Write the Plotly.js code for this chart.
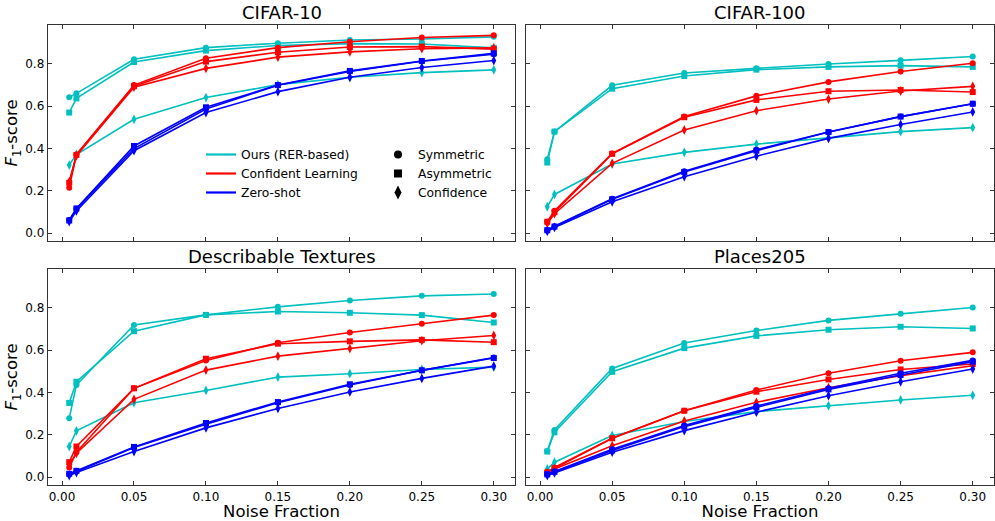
<!DOCTYPE html>
<html>
<head>
<meta charset="utf-8">
<script src="https://cdn.plot.ly/plotly-3.0.1.min.js"></script>
<style>html,body{margin:0;padding:0;background:#fff;}#chart{width:995px;height:521px;}</style>
</head>
<body>
<div id="chart"></div>
<script>
// ---------- data ----------
const noise = [0.005, 0.01, 0.05, 0.10, 0.15, 0.20, 0.25, 0.30];
const xTicks = [0.00, 0.05, 0.10, 0.15, 0.20, 0.25, 0.30];
const yTicks = [0.0, 0.2, 0.4, 0.6, 0.8];
const datasets = ["CIFAR-10", "CIFAR-100", "Describable Textures", "Places205"];
const methods = ["Ours (RER-based)", "Confident Learning", "Zero-shot"];
const noiseTypes = ["Symmetric", "Asymmetric", "Confidence"];

// CIFAR-10
const c10_ours_sym  = [0.642, 0.661, 0.822, 0.877, 0.898, 0.913, 0.918, 0.928];
const c10_ours_asym = [0.570, 0.637, 0.809, 0.863, 0.887, 0.896, 0.894, 0.876];
const c10_ours_conf = [0.322, 0.372, 0.538, 0.641, 0.702, 0.737, 0.759, 0.772];
const c10_cl_sym    = [0.215, 0.372, 0.700, 0.827, 0.877, 0.905, 0.925, 0.935];
const c10_cl_asym   = [0.238, 0.370, 0.695, 0.811, 0.855, 0.880, 0.882, 0.870];
const c10_cl_conf   = [0.243, 0.366, 0.690, 0.779, 0.832, 0.857, 0.872, 0.876];
const c10_zs_sym    = [0.062, 0.115, 0.400, 0.587, 0.699, 0.764, 0.813, 0.846];
const c10_zs_asym   = [0.060, 0.117, 0.412, 0.595, 0.700, 0.767, 0.814, 0.850];
const c10_zs_conf   = [0.055, 0.105, 0.390, 0.570, 0.669, 0.737, 0.783, 0.816];

// CIFAR-100
const c100_ours_sym  = [0.349, 0.480, 0.699, 0.757, 0.779, 0.800, 0.817, 0.835];
const c100_ours_asym = [0.334, 0.480, 0.683, 0.743, 0.773, 0.786, 0.792, 0.786];
const c100_ours_conf = [0.125, 0.183, 0.327, 0.382, 0.421, 0.451, 0.480, 0.499];
const c100_cl_sym    = [0.054, 0.106, 0.377, 0.551, 0.649, 0.715, 0.764, 0.803];
const c100_cl_asym   = [0.054, 0.099, 0.375, 0.548, 0.630, 0.671, 0.677, 0.667];
const c100_cl_conf   = [0.046, 0.092, 0.330, 0.488, 0.579, 0.634, 0.672, 0.694];
const c100_zs_sym    = [0.014, 0.033, 0.163, 0.293, 0.394, 0.478, 0.551, 0.612];
const c100_zs_asym   = [0.014, 0.031, 0.160, 0.289, 0.390, 0.478, 0.551, 0.612];
const c100_zs_conf   = [0.009, 0.027, 0.148, 0.267, 0.364, 0.448, 0.514, 0.573];

// Describable Textures
const dtd_ours_sym  = [0.278, 0.436, 0.719, 0.767, 0.805, 0.835, 0.857, 0.866];
const dtd_ours_asym = [0.351, 0.451, 0.690, 0.767, 0.783, 0.777, 0.766, 0.731];
const dtd_ours_conf = [0.145, 0.219, 0.352, 0.410, 0.473, 0.489, 0.509, 0.520];
const dtd_cl_sym    = [0.046, 0.118, 0.420, 0.552, 0.635, 0.684, 0.725, 0.766];
const dtd_cl_asym   = [0.071, 0.145, 0.420, 0.560, 0.631, 0.642, 0.649, 0.638];
const dtd_cl_conf   = [0.058, 0.113, 0.368, 0.506, 0.572, 0.608, 0.645, 0.670];
const dtd_zs_sym    = [0.014, 0.027, 0.140, 0.250, 0.352, 0.436, 0.505, 0.566];
const dtd_zs_asym   = [0.016, 0.030, 0.143, 0.256, 0.355, 0.439, 0.505, 0.563];
const dtd_zs_conf   = [0.008, 0.022, 0.121, 0.233, 0.325, 0.403, 0.467, 0.525];

// Places205
const p205_ours_sym  = [0.124, 0.223, 0.514, 0.634, 0.693, 0.741, 0.772, 0.802];
const p205_ours_asym = [0.121, 0.212, 0.498, 0.610, 0.668, 0.697, 0.711, 0.703];
const p205_ours_conf = [0.039, 0.071, 0.197, 0.263, 0.310, 0.338, 0.365, 0.387];
const p205_cl_sym    = [0.024, 0.046, 0.184, 0.314, 0.412, 0.491, 0.550, 0.590];
const p205_cl_asym   = [0.022, 0.042, 0.184, 0.314, 0.404, 0.462, 0.509, 0.535];
const p205_cl_conf   = [0.019, 0.039, 0.149, 0.266, 0.354, 0.423, 0.480, 0.527];
const p205_zs_sym    = [0.014, 0.027, 0.132, 0.244, 0.336, 0.420, 0.491, 0.552];
const p205_zs_asym   = [0.013, 0.025, 0.126, 0.239, 0.330, 0.415, 0.483, 0.546];
const p205_zs_conf   = [0.008, 0.020, 0.118, 0.220, 0.307, 0.385, 0.451, 0.511];

// ---------- styling ----------
const colors = ["#00BFBF", "#FF0000", "#0000FF"];
const symbols = ["circle", "square", "diamond-tall"];
const msizes = [6, 6, 7];
const FONT = "DejaVu Sans, Liberation Sans, sans-serif";

const series = [
  [[c10_ours_sym, c10_ours_asym, c10_ours_conf], [c10_cl_sym, c10_cl_asym, c10_cl_conf], [c10_zs_sym, c10_zs_asym, c10_zs_conf]],
  [[c100_ours_sym, c100_ours_asym, c100_ours_conf], [c100_cl_sym, c100_cl_asym, c100_cl_conf], [c100_zs_sym, c100_zs_asym, c100_zs_conf]],
  [[dtd_ours_sym, dtd_ours_asym, dtd_ours_conf], [dtd_cl_sym, dtd_cl_asym, dtd_cl_conf], [dtd_zs_sym, dtd_zs_asym, dtd_zs_conf]],
  [[p205_ours_sym, p205_ours_asym, p205_ours_conf], [p205_cl_sym, p205_cl_asym, p205_cl_conf], [p205_zs_sym, p205_zs_asym, p205_zs_conf]]
];

const traces = [];
series.forEach((ds, di) => {
  const sfx = di === 0 ? "" : String(di + 1);
  ds.forEach((m, mi) => {
    m.forEach((vals, ni) => {
      traces.push({
        type: "scatter", mode: "lines+markers",
        x: noise, y: vals,
        xaxis: "x" + sfx, yaxis: "y" + sfx,
        line: {color: colors[mi], width: 1.6},
        marker: {color: colors[mi], symbol: symbols[ni], size: msizes[ni]},
        showlegend: false, hoverinfo: "skip"
      });
    });
  });
});
// legend entries: methods (lines) and noise types (markers)
methods.forEach((name, mi) => {
  traces.push({type: "scatter", mode: "lines", x: [null], y: [null], name: name,
    line: {color: colors[mi], width: 2.2}, legend: "legend", showlegend: true});
});
noiseTypes.forEach((name, ni) => {
  traces.push({type: "scatter", mode: "markers", x: [null], y: [null], name: name,
    marker: {color: "#000", symbol: symbols[ni], size: ni === 2 ? 10 : 8}, legend: "legend2", showlegend: true});
});

const L = 48, R = 994, T = 25, B = 485;
const W = R - L, H = B - T;
const xdomL = [0, (515 - L) / W], xdomR = [(526 - L) / W, 1];
const ydomT = [(B - 241) / H, 1], ydomB = [0, (B - 269) / H];

function xax(dom, showLabels, anchor) {
  const a = {
    domain: dom, anchor: anchor, range: [-0.00975, 0.31475],
    tickvals: xTicks, ticktext: xTicks.map(v => v.toFixed(2)), showticklabels: showLabels,
    ticks: "inside", ticklen: 4, tickwidth: 1, tickcolor: "#333",
    showline: true, linecolor: "#333", linewidth: 1.3, mirror: "ticks",
    showgrid: false, zeroline: false,
    tickfont: {family: FONT, size: 12, color: "#000"}
  };
  if (showLabels) a.title = {text: "Noise Fraction", font: {family: FONT, size: 16.5, color: "#000"}, standoff: 1};
  return a;
}
function yax(dom, showLabels, anchor) {
  const a = {
    domain: dom, anchor: anchor, range: [-0.037, 0.984],
    tickvals: yTicks, ticktext: yTicks.map(v => v.toFixed(1)), showticklabels: showLabels,
    ticks: "inside", ticklen: 4, tickwidth: 1, tickcolor: "#333",
    showline: true, linecolor: "#333", linewidth: 1.3, mirror: "ticks",
    showgrid: false, zeroline: false,
    tickfont: {family: FONT, size: 12, color: "#000"}
  };
  if (showLabels) a.title = {text: "<i>F</i><sub>1</sub>-score", font: {family: FONT, size: 16.5, color: "#000"}, standoff: 3};
  return a;
}

const annotations = datasets.map((t, i) => ({
  text: t, xref: "paper", yref: "paper",
  x: (i % 2 === 0) ? (xdomL[0] + xdomL[1]) / 2 : (xdomR[0] + xdomR[1]) / 2,
  y: i < 2 ? ydomT[1] : ydomB[1],
  xanchor: "center", yanchor: "bottom", showarrow: false,
  font: {family: FONT, size: 18, color: "#000"}
}));

const layout = {
  width: 995, height: 521,
  margin: {l: L, r: 995 - R, t: T, b: 521 - B, pad: 0},
  paper_bgcolor: "#fff", plot_bgcolor: "#fff",
  font: {family: FONT, color: "#000"},
  xaxis: xax(xdomL, false, "y"),
  yaxis: yax(ydomT, true, "x"),
  xaxis2: xax(xdomR, false, "y2"),
  yaxis2: yax(ydomT, false, "x2"),
  xaxis3: xax(xdomL, true, "y3"),
  yaxis3: yax(ydomB, true, "x3"),
  xaxis4: xax(xdomR, true, "y4"),
  yaxis4: yax(ydomB, false, "x4"),
  annotations: annotations,
  legend: {x: (201 - L) / W, y: (B - 140) / H, xanchor: "left", yanchor: "top",
    bgcolor: "rgba(0,0,0,0)", font: {family: FONT, size: 12.3, color: "#000"}, tracegroupgap: 0},
  legend2: {x: (378 - L) / W, y: (B - 140) / H, xanchor: "left", yanchor: "top",
    bgcolor: "rgba(0,0,0,0)", font: {family: FONT, size: 12.3, color: "#000"}, tracegroupgap: 0},
  showlegend: true
};

Plotly.newPlot("chart", traces, layout, {staticPlot: true, displayModeBar: false});
</script>
</body>
</html>
